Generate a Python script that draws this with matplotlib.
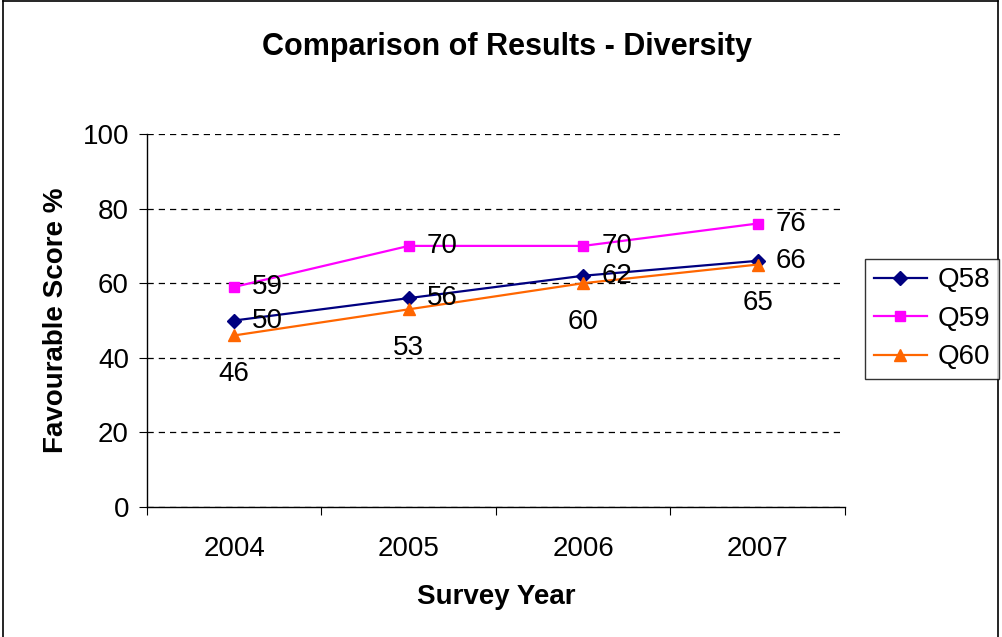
import matplotlib.pyplot as plt
from matplotlib.lines import Line2D

# Datos
years = ['2004', '2005', '2006', '2007']
q58 = [50, 56, 62, 66]
q59 = [59, 70, 70, 76]
q60 = [46, 53, 60, 65]

plt.rcParams['font.family'] = ['Liberation Sans', 'DejaVu Sans']

fig = plt.figure(figsize=(10.03, 6.37), dpi=100)
W, H = 1003, 637
ax = fig.add_axes([147 / W, 1 - 507 / H, (845 - 147) / W, (507 - 134) / H])

x = list(range(1, len(years) + 1))
ax.plot(x, q58, color='#000080', marker='D', markersize=7, lw=1.6, label='Q58')
ax.plot(x, q59, color='#FF00FF', marker='s', markersize=7, lw=1.6, label='Q59')
ax.plot(x, q60, color='#FF6600', marker='^', markersize=9, lw=1.6, label='Q60')

# Etiquetas de datos
for xi, v in zip(x, q58):
    ax.annotate(str(v), (xi, v), xytext=(13, 0), textcoords='offset points',
                ha='left', va='center', fontsize=20)
for xi, v in zip(x, q59):
    ax.annotate(str(v), (xi, v), xytext=(13, 0), textcoords='offset points',
                ha='left', va='center', fontsize=20)
for xi, v in zip(x, q60):
    ax.annotate(str(v), (xi, v), xytext=(0, -28), textcoords='offset points',
                ha='center', va='center', fontsize=20)

ax.set_xlim(0.5, len(years) + 0.5)
ax.set_ylim(0, 100)
ax.set_yticks(range(0, 101, 20))
ax.tick_params(axis='y', labelsize=20, length=6, direction='out', pad=7)

# marcas en los límites de categoría, etiquetas en el centro
ax.set_xticks([i + 0.5 for i in range(0, len(years) + 1)])
ax.set_xticklabels([])
ax.set_xticks(x, minor=True)
ax.set_xticklabels(years, minor=True)
ax.tick_params(axis='x', which='major', length=6, direction='out')
ax.tick_params(axis='x', which='minor', length=0, labelsize=20, pad=21)

ax.grid(axis='y', color='black', linestyle=(0, (5, 4)), lw=0.9)
for s in ['top', 'right']:
    ax.spines[s].set_visible(False)
ax.spines['left'].set_linewidth(1.0)
ax.spines['bottom'].set_linewidth(1.0)

ax.set_xlabel('Survey Year', fontsize=20, fontweight='bold', labelpad=16)
ax.set_ylabel('Favourable Score %', fontsize=20, fontweight='bold', labelpad=10)

fig.text(507 / W, 1 - 47 / H, 'Comparison of Results - Diversity',
         ha='center', va='center', fontsize=22, fontweight='bold')

leg = fig.legend(loc='center', bbox_to_anchor=(932 / W, 1 - 319 / H), fontsize=20,
                 frameon=True, fancybox=False, edgecolor='black',
                 handlelength=1.9, handletextpad=0.4, borderpad=0.3,
                 labelspacing=0.45, borderaxespad=0)
leg.get_frame().set_linewidth(1.0)

# marco exterior
fig.add_artist(Line2D([3 / W, 3 / W], [0, 1 - 1 / H], color='black', lw=1.2, transform=fig.transFigure))
fig.add_artist(Line2D([3 / W, 998 / W], [1 - 1 / H, 1 - 1 / H], color='black', lw=1.2, transform=fig.transFigure))
fig.add_artist(Line2D([998 / W, 998 / W], [0, 1 - 1 / H], color='black', lw=1.2, transform=fig.transFigure))

fig.savefig('out.png', dpi=100)
